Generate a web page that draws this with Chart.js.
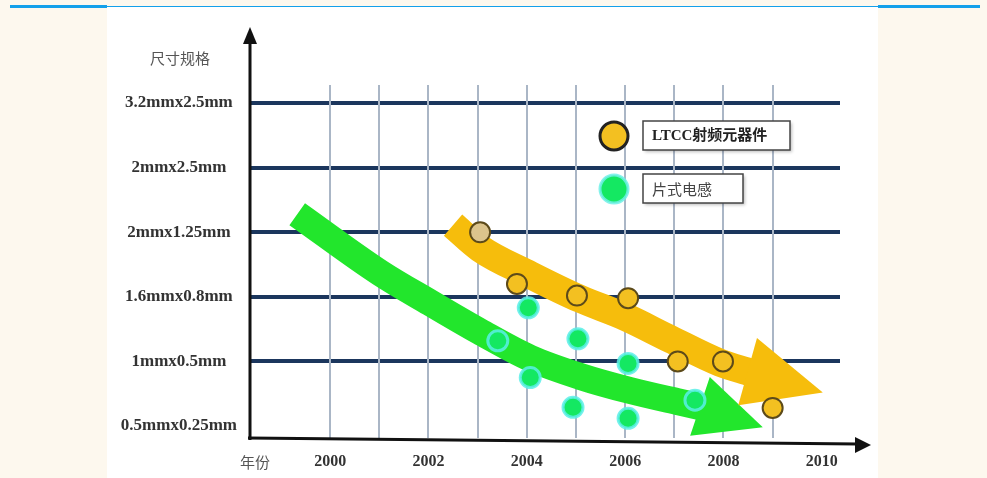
<!DOCTYPE html>
<html>
<head>
<meta charset="utf-8">
<script src="https://cdn.jsdelivr.net/npm/chart.js@4.4.0/dist/chart.umd.min.js"></script>
<style>
  html, body { margin: 0; padding: 0; }
  body { width: 987px; height: 478px; background: #fdf8ee; position: relative; overflow: hidden; }
  .panel { position: absolute; left: 107px; top: 7px; width: 771px; height: 471px; background: #fff; }
  .rule { position: absolute; background: #14a0ea; }
  canvas { position: absolute; left: 0; top: 0; }
</style>
</head>
<body>
<div class="panel"></div>
<div class="rule" style="left:10px;top:5px;width:97px;height:3px"></div>
<div class="rule" style="left:107px;top:6px;width:771px;height:1px"></div>
<div class="rule" style="left:878px;top:5px;width:102px;height:3px"></div>
<canvas id="chart" width="987" height="478"></canvas>
<script>
// Size trend of LTCC RF parts vs chip inductors (尺寸规格 by 年份)

// -- Data --
const years = [2000, 2001, 2002, 2003, 2004, 2005, 2006, 2007, 2008, 2009, 2010];
const sizeLabels = ['0.5mmx0.25mm', '1mmx0.5mm', '1.6mmx0.8mm', '2mmx1.25mm', '2mmx2.5mm', '3.2mmx2.5mm'];
const legendNames = ['LTCC射频元器件', '片式电感'];

// LTCC RF components (orange rings)
const ltccYears = [2003.05, 2003.8, 2005.02, 2006.06, 2007.07, 2007.99, 2009.0];
const ltccSizes = [3.0, 2.2, 2.02, 1.98, 1.0, 1.0, 0.28];

// chip inductors (green dots)
const inductorYears = [2004.03, 2003.41, 2004.07, 2005.04, 2004.94, 2006.06, 2006.06, 2007.42];
const inductorSizes = [1.83, 1.32, 0.75, 1.35, 0.29, 0.97, 0.12, 0.40];

// trend arrows (centre line, then arrow tip)
const ltccTrendYears = [2002.5, 2003.05, 2004.07, 2005.08, 2006.0, 2006.91, 2007.93, 2008.55];
const ltccTrendSizes = [3.11, 2.75, 2.34, 1.97, 1.69, 1.35, 0.98, 0.83];
const ltccTip = [2010.02, 0.52];

const inductorTrendYears = [1999.33, 2001.02, 2002.03, 2003.05, 2004.07, 2005.08, 2006.1, 2007.11, 2007.58];
const inductorTrendSizes = [3.28, 2.37, 1.91, 1.46, 1.05, 0.77, 0.55, 0.37, 0.29];
const inductorTip = [2008.8, -0.02];

const toPoints = (xs, ys) => xs.map((x, i) => ({ x: x, y: ys[i] }));

const serifBold = "'Liberation Serif', 'DejaVu Serif', serif";
const cjk = "'Liberation Serif', 'Noto Sans CJK SC', sans-serif";

// -- Arrow heads, drawn right after their band --
const arrowHeads = {
  id: 'arrowHeads',
  afterDatasetDraw(chart, args) {
    const ds = chart.data.datasets[args.index];
    if (!ds.tip) return;
    const pts = args.meta.data;
    const last = pts[pts.length - 1];
    const tx = chart.scales.x.getPixelForValue(ds.tip[0]);
    const ty = chart.scales.y.getPixelForValue(ds.tip[1]);
    const dx = tx - last.x, dy = ty - last.y;
    const len = Math.hypot(dx, dy);
    const ux = dx / len, uy = dy / len;
    const bx = last.x - ux * 3, by = last.y - uy * 3;
    const nx = -uy * ds.headHalf, ny = ux * ds.headHalf;
    const ctx = chart.ctx;
    ctx.save();
    ctx.fillStyle = ds.borderColor;
    ctx.beginPath();
    ctx.moveTo(bx + nx, by + ny);
    ctx.lineTo(tx, ty);
    ctx.lineTo(bx - nx, by - ny);
    ctx.closePath();
    ctx.fill();
    ctx.restore();
  }
};

// -- Axes with arrows, axis titles and the boxed legend --
const axesAndNotes = {
  id: 'axesAndNotes',
  afterDraw(chart) {
    const ctx = chart.ctx;
    const a = chart.chartArea;
    ctx.save();
    ctx.strokeStyle = '#111';
    ctx.fillStyle = '#111';
    ctx.lineWidth = 3;

    // y axis
    ctx.beginPath();
    ctx.moveTo(a.left, a.bottom + 2);
    ctx.lineTo(a.left, 40);
    ctx.stroke();
    ctx.beginPath();
    ctx.moveTo(a.left, 27);
    ctx.lineTo(a.left - 7, 44);
    ctx.lineTo(a.left + 7, 44);
    ctx.closePath();
    ctx.fill();

    // x axis (slightly tilted like the original)
    ctx.beginPath();
    ctx.moveTo(a.left - 2, a.bottom);
    ctx.lineTo(858, a.bottom + 6);
    ctx.stroke();
    ctx.beginPath();
    ctx.moveTo(871, a.bottom + 7);
    ctx.lineTo(855, a.bottom - 1);
    ctx.lineTo(855, a.bottom + 15);
    ctx.closePath();
    ctx.fill();

    // axis titles
    ctx.fillStyle = '#555';
    ctx.textAlign = 'center';
    ctx.textBaseline = 'middle';
    ctx.font = "15px 'Noto Sans CJK SC', sans-serif";
    ctx.fillText('尺寸规格', 180, 58);
    ctx.fillText('年份', 255, 462);

    // legend
    const items = [
      { y: 136, w: 147, font: 'bold 15px ' + cjk, color: '#222' },
      { y: 189, w: 100, font: "15px 'Noto Sans CJK SC', sans-serif", color: '#444' }
    ];
    items.forEach((it, i) => {
      ctx.save();
      ctx.beginPath();
      ctx.arc(614, it.y, 14, 0, Math.PI * 2);
      ctx.fillStyle = i === 0 ? '#f3c021' : '#14e862';
      ctx.fill();
      ctx.lineWidth = 3;
      ctx.strokeStyle = i === 0 ? '#222' : 'rgba(110,240,232,0.85)';
      ctx.stroke();
      ctx.restore();

      ctx.save();
      ctx.shadowColor = 'rgba(0,0,0,0.25)';
      ctx.shadowBlur = 3;
      ctx.shadowOffsetX = 2;
      ctx.shadowOffsetY = 2;
      ctx.fillStyle = '#fff';
      ctx.fillRect(643, it.y - 15, it.w, 29);
      ctx.restore();
      ctx.strokeStyle = '#444';
      ctx.lineWidth = 1.5;
      ctx.strokeRect(643, it.y - 15, it.w, 29);
      ctx.fillStyle = it.color;
      ctx.font = it.font;
      ctx.textAlign = 'left';
      ctx.fillText(legendNames[i], 652, it.y);
    });
    ctx.restore();
  }
};

// -- Chart --
new Chart(document.getElementById('chart'), {
  type: 'scatter',
  data: {
    datasets: [
      {
        label: legendNames[0],
        data: toPoints(ltccYears, ltccSizes),
        pointRadius: 10,
        pointBorderWidth: 2,
        pointBackgroundColor: ['#dcc48c', '#f3c021', '#f3c021', '#f3c021', '#f3c021', '#f3c021', '#f3c021'],
        pointBorderColor: '#5c4a1a'
      },
      {
        label: legendNames[1],
        data: toPoints(inductorYears, inductorSizes),
        pointRadius: 10,
        pointBorderWidth: 3,
        pointBackgroundColor: '#14e862',
        pointBorderColor: 'rgba(90,238,232,0.85)'
      },
      {
        label: 'ltcc trend',
        data: toPoints(ltccTrendYears, ltccTrendSizes),
        showLine: true,
        borderColor: '#f6bd0c',
        borderWidth: 28,
        borderCapStyle: 'butt',
        cubicInterpolationMode: 'monotone',
        pointRadius: 0,
        tip: ltccTip,
        headHalf: 35
      },
      {
        label: 'inductor trend',
        data: toPoints(inductorTrendYears, inductorTrendSizes),
        showLine: true,
        borderColor: '#22e62c',
        borderWidth: 27,
        borderCapStyle: 'butt',
        cubicInterpolationMode: 'monotone',
        pointRadius: 0,
        tip: inductorTip,
        headHalf: 31
      }
    ]
  },
  options: {
    responsive: false,
    animation: false,
    events: [],
    layout: { padding: { left: 108, right: 147, top: 85, bottom: 0 } },
    plugins: {
      legend: { display: false },
      tooltip: { enabled: false }
    },
    scales: {
      x: {
        type: 'linear',
        min: 1998.37,
        max: 2010.37,
        afterBuildTicks: s => { s.ticks = years.map(v => ({ value: v })); },
        afterFit: s => { s.height = 40; },
        border: { display: false },
        grid: {
          z: -0.5,
          color: c => (c.tick && c.tick.value < 2010 ? '#aab6c6' : 'transparent'),
          lineWidth: 2,
          drawTicks: false
        },
        ticks: {
          padding: 14,
          autoSkip: false,
          maxRotation: 0,
          color: '#333',
          font: { family: serifBold, size: 16, weight: 'bold' },
          callback: v => (v % 2 === 0 ? String(v) : '')
        }
      },
      y: {
        type: 'linear',
        min: -0.185,
        max: 5.28,
        afterBuildTicks: s => { s.ticks = sizeLabels.map((_, i) => ({ value: i })); },
        afterFit: s => { s.width = 142; },
        border: { display: false },
        grid: {
          color: c => (c.tick && c.tick.value > 0 ? '#1b365d' : 'transparent'),
          lineWidth: 4,
          drawTicks: false
        },
        ticks: {
          padding: 13,
          crossAlign: 'center',
          color: '#333',
          font: { family: serifBold, size: 17, weight: 'bold' },
          callback: v => sizeLabels[v] || ''
        }
      }
    }
  },
  plugins: [arrowHeads, axesAndNotes]
});
</script>
</body>
</html>
